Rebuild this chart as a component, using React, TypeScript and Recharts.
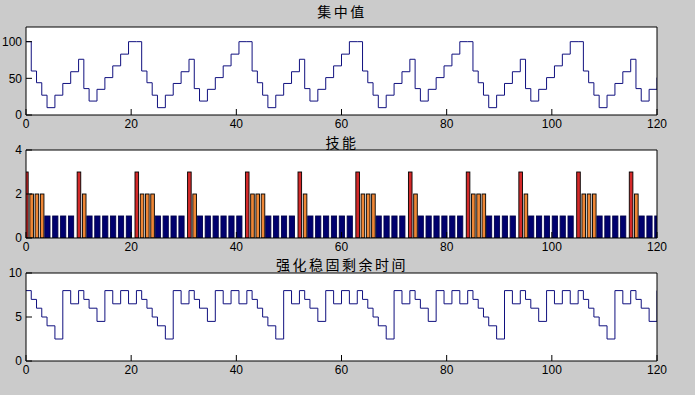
import React from 'react';
import { ComposedChart, Line, Bar, XAxis, YAxis, CartesianGrid } from 'recharts';

// Action times
const time = [
  0, 1, 2, 3, 4, 5.5, 7, 8.5, 10, 11, 12, 13.5, 15, 16.5, 18, 19.5,
  21, 22, 23, 24, 25, 26.5, 28, 29.5, 31, 32, 33, 34.5, 36, 37.5, 39, 40.5,
  42, 43, 44, 45, 46, 47.5, 49, 50.5, 52, 53, 54, 55.5, 57, 58.5, 60, 61.5,
  63, 64, 65, 66, 67, 68.5, 70, 71.5, 73, 74, 75, 76.5, 78, 79.5, 81, 82.5,
  84, 85, 86, 87, 88, 89.5, 91, 92.5, 94, 95, 96, 97.5, 99, 100.5, 102, 103.5,
  105, 106, 107, 108, 109, 110.5, 112, 113.5, 115, 116, 117, 118.5, 120,
];

// 技能 (skill id)
const skill = [
  3, 2, 2, 2, 1, 1, 1, 1, 3, 2, 1, 1, 1, 1, 1, 1,
  3, 2, 2, 2, 1, 1, 1, 1, 3, 2, 1, 1, 1, 1, 1, 1,
  3, 2, 2, 2, 1, 1, 1, 1, 3, 2, 1, 1, 1, 1, 1, 1,
  3, 2, 2, 2, 1, 1, 1, 1, 3, 2, 1, 1, 1, 1, 1, 1,
  3, 2, 2, 2, 1, 1, 1, 1, 3, 2, 1, 1, 1, 1, 1, 1,
  3, 2, 2, 2, 1, 1, 1, 1, 3, 2, 1, 1, 1,
];

// 集中值
const concentration = [
  100, 60, 44, 27, 10, 27, 43, 59, 76, 36, 19, 35, 51, 67, 83, 100,
  100, 60, 44, 27, 10, 27, 43, 59, 76, 36, 19, 35, 51, 67, 83, 100,
  100, 60, 44, 27, 10, 27, 43, 59, 76, 36, 19, 35, 51, 67, 83, 100,
  100, 60, 44, 27, 10, 27, 43, 59, 76, 36, 19, 35, 51, 67, 83, 100,
  100, 60, 44, 27, 10, 27, 43, 59, 76, 36, 19, 35, 51, 67, 83, 100,
  100, 60, 44, 27, 10, 27, 43, 59, 76, 36, 19, 35, 51,
];

// 强化稳固剩余时间
const stability = [
  8, 7, 6, 5, 4, 2.5, 8, 6.5, 8, 7, 6, 4.5, 8, 6.5, 8, 6.5,
  8, 7, 6, 5, 4, 2.5, 8, 6.5, 8, 7, 6, 4.5, 8, 6.5, 8, 6.5,
  8, 7, 6, 5, 4, 2.5, 8, 6.5, 8, 7, 6, 4.5, 8, 6.5, 8, 6.5,
  8, 7, 6, 5, 4, 2.5, 8, 6.5, 8, 7, 6, 4.5, 8, 6.5, 8, 6.5,
  8, 7, 6, 5, 4, 2.5, 8, 6.5, 8, 7, 6, 4.5, 8, 6.5, 8, 6.5,
  8, 7, 6, 5, 4, 2.5, 8, 6.5, 8, 7, 6, 4.5, 8,
];

const xTicks = [0, 20, 40, 60, 80, 100, 120];
const concTicks = [0, 50, 100];
const skillTicks = [0, 2, 4];
const stabTicks = [0, 5, 10];
const titles = ['集中值', '技能', '强化稳固剩余时间'];

const rows = time.map((t, i) => ({
  t,
  skill: skill[i],
  conc: concentration[i],
  stab: stability[i],
}));

const FONT = '"Liberation Sans", Arial, sans-serif';
const LINE_COLOR = '#10107f';
const TICK = { fill: '#000', fontSize: 12, fontFamily: FONT };

const SkillBar = (props: any) => {
  const { x, y, width, height, payload } = props;
  if (height == null || isNaN(height)) return null;
  const cx = x + width / 2;
  const s = payload.skill;
  const w = s === 1 ? 5.2 : 3.6;
  const fill = s === 3 ? '#d42a2a' : s === 2 ? '#ee8636' : '#00006e';
  const stroke = s === 1 ? '#00004a' : '#000';
  return (
    <rect x={cx - w / 2} y={y} width={w} height={height} fill={fill} stroke={stroke} strokeWidth={0.9} />
  );
};

function Panel(props: {
  top: number;
  height: number;
  mTop: number;
  mBottom: number;
  yDomain: [number, number];
  yTicks: number[];
  children: React.ReactNode;
}) {
  const { top, height, mTop, mBottom, yDomain, yTicks, children } = props;
  return (
    <div style={{ position: 'absolute', left: 0, top, width: 695, height }}>
      <ComposedChart
        width={695}
        height={height}
        data={rows}
        margin={{ top: mTop - 1, right: 37, bottom: mBottom - 1, left: 25 }}
      >
        <CartesianGrid fill="#ffffff" stroke="none" horizontal={false} vertical={false} />
        {children}
        <XAxis
          xAxisId={0}
          dataKey="t"
          type="number"
          domain={[0, 120]}
          ticks={xTicks}
          interval={0}
          allowDataOverflow
          height={1}
          tickSize={-6}
          tickMargin={10}
          stroke="#000"
          tick={TICK}
        />
        <XAxis
          xAxisId="top"
          orientation="top"
          dataKey="t"
          type="number"
          domain={[0, 120]}
          ticks={xTicks}
          interval={0}
          allowDataOverflow
          height={1}
          tickSize={-6}
          stroke="#000"
          tick={false}
        />
        <YAxis
          yAxisId={0}
          type="number"
          domain={yDomain}
          ticks={yTicks}
          interval={0}
          allowDataOverflow
          width={1}
          tickSize={-6}
          tickMargin={10}
          stroke="#000"
          tick={TICK}
        />
        <YAxis
          yAxisId="right"
          orientation="right"
          type="number"
          domain={yDomain}
          ticks={yTicks}
          interval={0}
          allowDataOverflow
          width={1}
          tickSize={-6}
          stroke="#000"
          tick={false}
        />
      </ComposedChart>
    </div>
  );
}

export default function App() {
  return (
    <div
      style={{
        position: 'absolute',
        left: 0,
        top: 0,
        width: 695,
        height: 395,
        background: '#cbcbcb',
        overflow: 'hidden',
      }}
    >
      <Panel top={0} height={140} mTop={27} mBottom={25} yDomain={[0, 120]} yTicks={concTicks}>
        <Line
          dataKey="conc"
          type="stepAfter"
          stroke={LINE_COLOR}
          strokeWidth={1}
          dot={false}
          activeDot={false}
          isAnimationActive={false}
        />
      </Panel>
      <Panel top={130} height={130} mTop={20} mBottom={22} yDomain={[0, 4]} yTicks={skillTicks}>
        <Bar dataKey="skill" barSize={4} shape={SkillBar} isAnimationActive={false} />
      </Panel>
      <Panel top={255} height={140} mTop={18} mBottom={34} yDomain={[0, 10]} yTicks={stabTicks}>
        <Line
          dataKey="stab"
          type="stepAfter"
          stroke={LINE_COLOR}
          strokeWidth={1}
          dot={false}
          activeDot={false}
          isAnimationActive={false}
        />
      </Panel>
      <svg
        width={695}
        height={395}
        style={{ position: 'absolute', left: 0, top: 0, pointerEvents: 'none' }}
      >
        {[17.3, 147.5, 270.3].map((y, i) => (
          <text
            key={i}
            x={342}
            y={y}
            textAnchor="middle"
            fontSize={14}
            letterSpacing={2.5}
            fontFamily='"Noto Sans CJK SC", sans-serif'
            fill="#000"
          >
            {titles[i]}
          </text>
        ))}
      </svg>
    </div>
  );
}
